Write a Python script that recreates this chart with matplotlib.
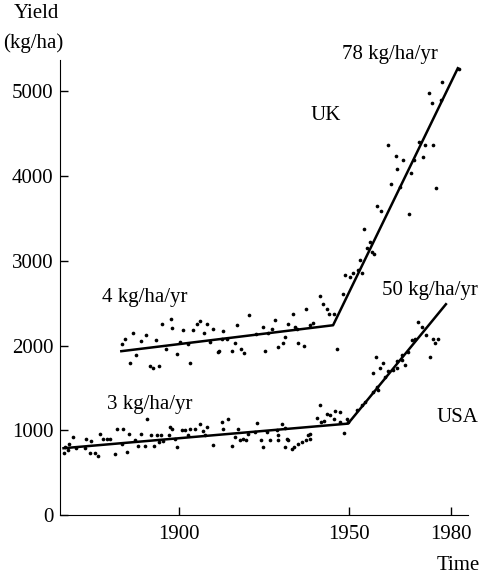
import matplotlib
matplotlib.use("Agg")
import matplotlib.pyplot as plt

plt.rcParams['font.family'] = ['Liberation Serif', 'DejaVu Serif']
plt.rcParams['font.size'] = 15

# UK yields (kg/ha)
uk_years = [1883.1, 1884.1, 1885.6, 1886.3, 1887.4, 1888.8, 1890.3, 1891.3, 1892.3, 1893.2,
            1894.2, 1894.9, 1896.1, 1897.6, 1897.9, 1899.3, 1900.3, 1901.1, 1902.5, 1903.2,
            1904.2, 1905.2, 1906.2, 1907.2, 1908.1, 1909.1, 1910.1, 1911.3, 1911.6, 1912.6,
            1913.0, 1914.0, 1915.7, 1916.3, 1917.0, 1918.2, 1919.2, 1920.6, 1922.6, 1924.8,
            1925.3, 1926.1, 1927.4, 1928.2, 1929.0, 1930.5, 1931.3, 1932.1, 1933.6, 1934.1,
            1934.6, 1935.1, 1936.6, 1937.3, 1938.5, 1939.5, 1941.5, 1942.4, 1943.4, 1944.1,
            1945.7, 1946.4, 1948.3, 1948.8, 1950.3, 1951.3, 1952.7, 1953.2, 1953.7, 1954.4,
            1955.4, 1956.2, 1956.7, 1957.4, 1958.1, 1959.4, 1961.6, 1962.4, 1963.8, 1964.2,
            1965.0, 1966.0, 1967.7, 1968.2, 1969.2, 1970.7, 1971.7, 1972.4, 1973.5, 1974.5,
            1974.6, 1975.6, 1977.0, 1977.4, 1982.2]
uk_yield = [2013, 2083, 1800, 2150, 1887, 2055, 2123, 1757, 1737, 2064,
            1757, 2249, 1954, 2308, 2209, 1895, 2044, 2182, 2013, 1789,
            2182, 2249, 2288, 2150, 2249, 2044, 2190, 1926, 1934, 2083,
            2173, 2083, 1934, 2025, 2240, 1954, 1907, 2358, 2142, 2220,
            1938, 2150, 2190, 2300, 1985, 2025, 2103, 2260, 2378, 2220,
            2190, 2032, 1993, 2426, 2240, 2268, 2583, 2496, 2437, 2378,
            2378, 1954, 2614, 2830, 2810, 2857, 2889, 3007, 2857, 3373,
            3152, 3223, 3105, 3085, 3648, 3585, 4363, 3911, 4233, 4080,
            3872, 4186, 3557, 4037, 4194, 4403, 4218, 4363, 4973, 4862,
            4371, 3860, 4901, 5110, 5267]

# USA yields (kg/ha)
usa_years = [1866.0, 1866.5, 1867.4, 1867.6, 1868.9, 1869.6, 1872.4, 1872.6, 1873.8, 1874.1,
             1875.3, 1876.1, 1876.8, 1877.7, 1878.7, 1879.7, 1881.2, 1881.7, 1883.1, 1883.6,
             1884.6, 1885.3, 1887.1, 1887.9, 1888.8, 1890.0, 1890.5, 1891.8, 1892.7, 1893.4,
             1894.1, 1894.7, 1895.4, 1896.9, 1897.4, 1897.9, 1898.8, 1899.3, 1900.8, 1901.8,
             1902.7, 1903.2, 1904.7, 1906.2, 1907.0, 1907.6, 1908.1, 1910.1, 1912.5, 1912.8,
             1914.5, 1915.5, 1916.5, 1917.4, 1917.9, 1918.9, 1919.7, 1920.4, 1922.4, 1923.0,
             1924.0, 1924.8, 1925.8, 1926.6, 1928.7, 1929.2, 1929.2, 1930.2, 1931.2, 1931.2,
             1931.6, 1932.1, 1933.1, 1933.9, 1935.1, 1936.3, 1937.3, 1937.8, 1938.5, 1938.5,
             1940.5, 1941.5, 1941.8, 1942.7, 1943.4, 1944.4, 1945.7, 1945.9, 1947.4, 1947.4,
             1948.6, 1949.3, 1949.8, 1952.3, 1953.7, 1954.7, 1957.1, 1957.1, 1957.9, 1958.1,
             1958.6, 1959.1, 1959.9, 1960.6, 1961.6, 1963.0, 1964.0, 1964.2, 1965.5, 1965.7,
             1966.5, 1967.4, 1968.4, 1969.4, 1970.2, 1971.4, 1972.6, 1973.8, 1974.6, 1975.3,
             1976.3]
usa_yield = [735, 805, 766, 845, 923, 794, 794, 893, 728, 873,
             728, 700, 955, 904, 893, 904, 719, 1011, 845, 1011,
             746, 963, 884, 817, 955, 817, 1129, 943, 817, 943,
             864, 943, 873, 943, 1041, 1022, 904, 805, 1002, 1002,
             943, 1022, 1022, 1081, 990, 943, 1041, 833, 1100, 1022,
             1140, 814, 923, 1014, 884, 904, 884, 963, 982, 1089,
             884, 805, 982, 884, 1002, 943, 884, 1081, 1030, 805,
             904, 884, 775, 805, 845, 864, 884, 943, 893, 955,
             1152, 1297, 1100, 1108, 1199, 1179, 1140, 1230, 1218, 1100,
             970, 1129, 1100, 1238, 1297, 1336, 1454, 1671, 1867, 1513,
             1474, 1741, 1789, 1624, 1698, 1710, 1730, 1820, 1828, 1887,
             1769, 1926, 2064, 2072, 2280, 2214, 2123, 1860, 2072, 2032,
             2072]

# fitted trend segments (break points)
uk_trend_x = [1883, 1945.3, 1982]
uk_trend_y = [1934, 2240, 5271]
usa_trend_x = [1866, 1949.7, 1978.5]
usa_trend_y = [790, 1080, 2488]

fig = plt.figure(figsize=(4.85, 5.75), dpi=100)
ax = fig.add_axes([0.124, 0.104, 0.841, 0.792])

ax.scatter(uk_years, uk_yield, s=7, color='black', linewidths=0)
ax.scatter(usa_years, usa_yield, s=7, color='black', linewidths=0)
ax.plot(uk_trend_x, uk_trend_y, color='black', lw=1.8)
ax.plot(usa_trend_x, usa_trend_y, color='black', lw=1.8)

ax.set_xlim(1865, 1985)
ax.set_ylim(0, 5370)
ax.set_xticks([1900, 1950, 1980])
ax.set_yticks([0, 1000, 2000, 3000, 4000, 5000])
ax.tick_params(direction='in', length=6, width=1)
ax.tick_params(axis='x', pad=7)
ax.tick_params(axis='y', pad=5)
for s in ['top', 'right']:
    ax.spines[s].set_visible(False)

ax.text(1962, 5435, '78 kg/ha/yr', ha='center', va='center')
ax.text(1943.2, 4717, 'UK', ha='center', va='center')
ax.text(1890, 2571, '4 kg/ha/yr', ha='center', va='center')
ax.text(1973.8, 2653, '50 kg/ha/yr', ha='center', va='center')
ax.text(1891.5, 1309, '3 kg/ha/yr', ha='center', va='center')
ax.text(1982, 1156, 'USA', ha='center', va='center')

fig.text(36/485, 1 - 14/575, 'Yield', ha='center', va='center')
fig.text(33/485, 1 - 43/575, '(kg/ha)', ha='center', va='center')
fig.text(458/485, 1 - 565/575, 'Time', ha='center', va='center')

fig.savefig('out.png', dpi=100)
